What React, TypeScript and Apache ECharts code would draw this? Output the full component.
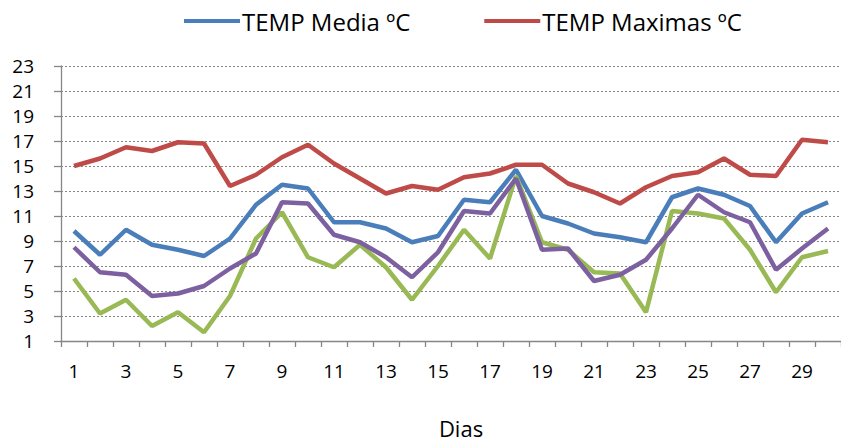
import React, { useEffect, useRef } from "react";
import * as echarts from "echarts";

const dias = Array.from({ length: 30 }, (_, i) => String(i + 1));

const tempMedia = [9.8, 7.9, 9.9, 8.7, 8.3, 7.8, 9.2, 11.9, 13.5, 13.2, 10.5, 10.5, 10.0, 8.9, 9.4, 12.3, 12.1, 14.7, 11.0, 10.4, 9.6, 9.3, 8.9, 12.5, 13.2, 12.7, 11.8, 8.9, 11.2, 12.1];
const tempMaximas = [15.0, 15.6, 16.5, 16.2, 16.9, 16.8, 13.4, 14.3, 15.7, 16.7, 15.2, 14.0, 12.8, 13.4, 13.1, 14.1, 14.4, 15.1, 15.1, 13.6, 12.9, 12.0, 13.3, 14.2, 14.5, 15.6, 14.3, 14.2, 17.1, 16.9];
const tempMinimas = [6.0, 3.2, 4.3, 2.2, 3.3, 1.7, 4.6, 9.2, 11.3, 7.7, 6.9, 8.7, 6.9, 4.3, 7.0, 9.9, 7.6, 14.2, 8.9, 8.3, 6.5, 6.4, 3.3, 11.4, 11.2, 10.8, 8.3, 4.9, 7.7, 8.2];
const tempOtra = [8.5, 6.5, 6.3, 4.6, 4.8, 5.4, 6.8, 8.0, 12.1, 12.0, 9.5, 8.9, 7.7, 6.1, 8.1, 11.4, 11.2, 14.0, 8.3, 8.4, 5.8, 6.3, 7.5, 10.0, 12.7, 11.3, 10.5, 6.7, 8.4, 10.0];

const FONT = "'Open Sans', 'Noto Sans', sans-serif";

export default function App() {
  const ref = useRef<HTMLDivElement>(null);
  useEffect(() => {
    if (!ref.current) return;
    const chart = echarts.init(ref.current, null, { renderer: "svg" });
    const lw = 4.5;
    chart.setOption({
      animation: false,
      backgroundColor: "#ffffff",
      textStyle: { fontFamily: FONT },
      legend: {
        data: ["TEMP Media ºC", "TEMP Maximas ºC"],
        left: 179,
        top: 4,
        itemWidth: 56,
        itemHeight: 14,
        itemGap: 74,
        icon: "path://M0,0 L56,0 L56,4 L0,4 Z",
        textStyle: { fontSize: 24, color: "#000", fontFamily: FONT, padding: [0, 0, 0, -3] },
      },
      grid: { left: 61, right: -8, top: 66, bottom: 104, containLabel: false },
      xAxis: {
        type: "category",
        data: dias,
        boundaryGap: true,
        name: "Dias",
        nameLocation: "middle",
        nameGap: 76,
        nameTextStyle: { fontSize: 22, color: "#000", fontFamily: FONT, padding: [0, 0, 0, 20] },
        axisLine: { show: true, lineStyle: { color: "#868686", width: 1.3 } },
        axisTick: { show: true, interval: 0, length: 6, lineStyle: { color: "#868686", width: 1.3 } },
        axisLabel: { interval: 1, fontSize: 19, color: "#000", margin: 20, fontFamily: FONT },
        splitLine: { show: false },
      },
      yAxis: {
        type: "value",
        min: 1,
        max: 23,
        interval: 2,
        axisLine: { show: true, lineStyle: { color: "#868686", width: 1.3 } },
        axisTick: { show: true, length: 7, lineStyle: { color: "#868686", width: 1.3 } },
        axisLabel: { fontSize: 19, color: "#000", margin: 27, fontFamily: FONT },
        splitLine: { show: true, lineStyle: { color: "#868686", type: [2, 2], width: 1 } },
      },
      series: [
        {
          name: "TEMP Media ºC",
          type: "line",
          data: tempMedia,
          symbol: "none",
          color: "#4A7EBB",
          lineStyle: { width: lw, color: "#4A7EBB" },
        },
        {
          name: "TEMP Maximas ºC",
          type: "line",
          data: tempMaximas,
          symbol: "none",
          color: "#BE4B48",
          lineStyle: { width: lw, color: "#BE4B48" },
        },
        {
          name: "TEMP Minimas ºC",
          type: "line",
          data: tempMinimas,
          symbol: "none",
          color: "#98B954",
          lineStyle: { width: lw, color: "#98B954" },
        },
        {
          name: "TEMP Otra ºC",
          type: "line",
          data: tempOtra,
          symbol: "none",
          color: "#7D60A0",
          lineStyle: { width: lw, color: "#7D60A0" },
        },
      ],
    });
    return () => chart.dispose();
  }, []);
  return (
    <div style={{ position: "fixed", left: 0, top: 0, width: 841, height: 445, overflow: "hidden" }}>
      <div ref={ref} style={{ width: 841, height: 445 }} />
    </div>
  );
}
